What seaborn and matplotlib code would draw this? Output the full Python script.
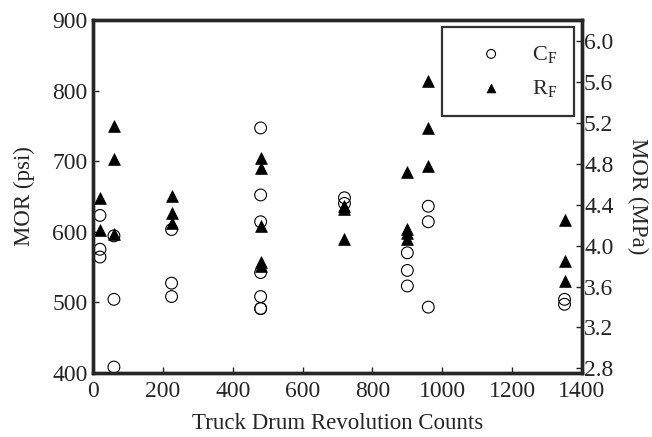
import matplotlib
matplotlib.use("Agg")
import matplotlib.pyplot as plt
import seaborn as sns
import pandas as pd
from matplotlib.ticker import FormatStrFormatter

# Flexural strength (MOR, psi) versus truck drum revolution counts
cf_counts = [20, 20, 20, 60, 60, 60,
             225, 225, 225,
             480, 480, 480, 480, 480, 480, 480,
             720, 720,
             900, 900, 900,
             960, 960, 960,
             1350, 1350]
cf_mor = [623, 575, 564, 594, 504, 408,
          603, 527, 508,
          747, 652, 614, 542, 508, 491, 491,
          648, 640,
          570, 545, 523,
          636, 614, 493,
          504, 497]

rf_counts = [20, 20, 60, 60, 60,
             225, 225, 225,
             480, 480, 480, 480, 480,
             720, 720, 720,
             900, 900, 900, 900,
             960, 960, 960,
             1350, 1350, 1350]
rf_mor = [647, 603, 750, 703, 597,
          651, 627, 612,
          704, 690, 608, 557, 551,
          637, 632, 589,
          685, 604, 598, 590,
          814, 747, 693,
          617, 558, 530]

PSI_PER_MPA = 145.038

cf = pd.DataFrame({"counts": cf_counts, "mor": cf_mor})
rf = pd.DataFrame({"counts": rf_counts, "mor": rf_mor})

sns.set_style("ticks")
plt.rcParams["font.family"] = ["Liberation Serif", "DejaVu Serif"]
plt.rcParams["mathtext.fontset"] = "custom"
plt.rcParams["mathtext.rm"] = "Liberation Serif"
plt.rcParams["mathtext.it"] = "Liberation Serif:italic"

fig = plt.figure(figsize=(6.52, 4.37), dpi=100)
ax = fig.add_axes([0.1426, 0.1471, 0.7500, 0.8071])

sns.scatterplot(data=cf, x="counts", y="mor", ax=ax, marker="o", s=72,
                facecolor="none", edgecolor="black", linewidth=0.8,
                label=r"C$_{\mathrm{F}}$")
sns.scatterplot(data=rf, x="counts", y="mor", ax=ax, marker="^", s=72,
                color="black", edgecolor="black", linewidth=0.5,
                label=r"R$_{\mathrm{F}}$")

ax.set_xlim(0, 1400)
ax.set_ylim(400, 900)
ax.set_xticks(range(0, 1401, 200))
ax.set_yticks(range(400, 901, 100))
ax.set_xlabel("Truck Drum Revolution Counts", fontsize=16.5, labelpad=8)
ax.set_ylabel("MOR (psi)", fontsize=16.5, labelpad=12)
ax.tick_params(axis="x", direction="in", length=4, width=1, labelsize=17, pad=6)
ax.tick_params(axis="y", direction="in", length=4, width=1, labelsize=17, pad=4)

for side in ["left", "right", "top", "bottom"]:
    ax.spines[side].set_visible(True)
    ax.spines[side].set_linewidth(2.4)
    ax.spines[side].set_color("black")

# Secondary axis in MPa
ax2 = ax.twinx()
ax2.set_ylim(400 / PSI_PER_MPA, 900 / PSI_PER_MPA)
ax2.set_yticks([2.8, 3.2, 3.6, 4.0, 4.4, 4.8, 5.2, 5.6, 6.0])
ax2.yaxis.set_major_formatter(FormatStrFormatter("%.1f"))
ax2.set_ylabel("MOR (MPa)", fontsize=16.5, rotation=270, labelpad=25)
ax2.tick_params(direction="in", length=4, width=1, labelsize=17, pad=1.5)
for side in ["left", "right", "top", "bottom"]:
    ax2.spines[side].set_linewidth(2.4)

leg = ax.legend(loc="upper right", bbox_to_anchor=(0.9836, 0.980),
                frameon=True, fancybox=False, edgecolor="black",
                fontsize=16, markerscale=0.75, handletextpad=0.4,
                borderpad=0.75, labelspacing=0.6, borderaxespad=0.0,
                handlelength=2.9, markerfirst=True)
leg.get_frame().set_linewidth(1.6)
leg.set_zorder(5)

fig.savefig("out.png", dpi=100)
